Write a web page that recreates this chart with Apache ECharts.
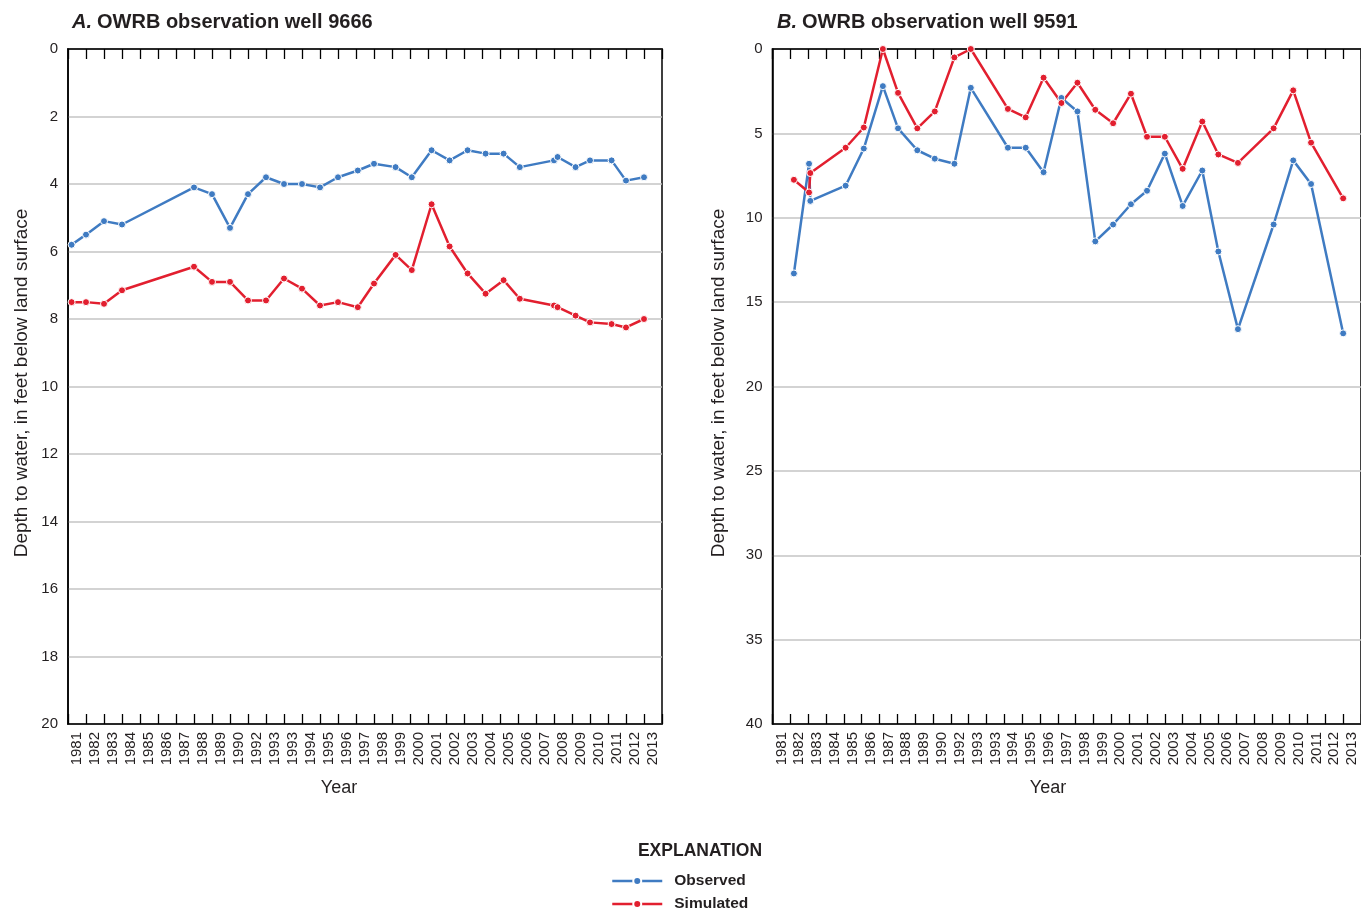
<!DOCTYPE html>
<html>
<head>
<meta charset="utf-8">
<script src="https://cdn.jsdelivr.net/npm/echarts@6/dist/echarts.min.js"></script>
<style>
  html, body { margin: 0; padding: 0; background: #ffffff; }
  #chart { width: 1361px; height: 911px; }
</style>
</head>
<body>
<div id="chart"></div>
<script>
// Tick labels printed under each band of the date axis
const yearLabels = ['1981','1982','1983','1984','1985','1986','1987','1988','1989','1990',
  '1992','1993','1993','1994','1995','1996','1997','1998','1999','2000','2001','2002',
  '2003','2004','2005','2006','2007','2008','2009','2010','2011','2012','2013'];

// Well 9666: measurement dates (decimal position on the date axis) and depths, feet
const timeA = [1981.2, 1982.0, 1983.0, 1984.0, 1988.0, 1989.0, 1990.0, 1991.0, 1992.0, 1993.0,
  1994.0, 1995.0, 1996.0, 1997.1, 1998.0, 1999.2, 2000.1, 2001.2, 2002.2, 2003.2,
  2004.2, 2005.2, 2006.1, 2008.0, 2008.2, 2009.2, 2010.0, 2011.2, 2012.0, 2013.0];
const observedA = [5.8, 5.5, 5.1, 5.2, 4.1, 4.3, 5.3, 4.3, 3.8, 4.0,
  4.0, 4.1, 3.8, 3.6, 3.4, 3.5, 3.8, 3.0, 3.3, 3.0,
  3.1, 3.1, 3.5, 3.3, 3.2, 3.5, 3.3, 3.3, 3.9, 3.8];
const simulatedA = [7.5, 7.5, 7.55, 7.15, 6.45, 6.9, 6.9, 7.45, 7.45, 6.8,
  7.1, 7.6, 7.5, 7.65, 6.95, 6.1, 6.55, 4.6, 5.85, 6.65,
  7.25, 6.85, 7.4, 7.6, 7.65, 7.9, 8.1, 8.15, 8.25, 8.0];

// Well 9591
const timeB = [1982.2, 1983.05, 1983.12, 1985.1, 1986.12, 1987.19, 1988.04, 1989.12, 1990.1, 1991.2,
  1992.12, 1994.2, 1995.2, 1996.2, 1997.2, 1998.1, 1999.1, 2000.1, 2001.1, 2002.0,
  2003.0, 2004.0, 2005.1, 2006.0, 2007.1, 2009.1, 2010.2, 2011.2, 2013.0];
const observedB = [13.3, 6.8, 9.0, 8.1, 5.9, 2.2, 4.7, 6.0, 6.5, 6.8,
  2.3, 5.85, 5.85, 7.3, 2.9, 3.7, 11.4, 10.4, 9.2, 8.4,
  6.2, 9.3, 7.2, 12.0, 16.6, 10.4, 6.6, 8.0, 16.85];
const simulatedB = [7.75, 8.5, 7.35, 5.85, 4.65, 0.0, 2.6, 4.7, 3.7, 0.5,
  0.0, 3.55, 4.05, 1.7, 3.2, 2.0, 3.6, 4.4, 2.65, 5.2,
  5.2, 7.1, 4.3, 6.25, 6.75, 4.7, 2.45, 5.55, 8.85];

const BLUE = '#3f7bc2';
const RED = '#e21f2f';
const INK = '#231f20';
const FONT = "'Liberation Sans', Arial, sans-serif";

const pairs = (xs, ys) => xs.map((x, i) => [x, ys[i]]);

function lineSeries(name, color, xIdx, yIdx, xs, ys) {
  return {
    name: name,
    type: 'line',
    xAxisIndex: xIdx,
    yAxisIndex: yIdx,
    data: pairs(xs, ys),
    symbol: 'circle',
    symbolSize: 7,
    showSymbol: true,
    clip: false,
    color: color,
    lineStyle: { color: color, width: 2.5 },
    itemStyle: { color: color, borderColor: '#ffffff', borderWidth: 1 },
    emphasis: { disabled: true },
    animation: false
  };
}

// Bottom axis: one band per label, ticks on the band edges pointing into the plot
function bandAxis(gridIndex) {
  return {
    type: 'category',
    gridIndex: gridIndex,
    position: 'bottom',
    data: yearLabels,
    boundaryGap: true,
    axisLine: { show: true, onZero: false, lineStyle: { color: '#000', width: 1.5 } },
    axisTick: { show: true, inside: true, length: 10, interval: 0, lineStyle: { color: '#000', width: 1.3 } },
    axisLabel: { interval: 0, rotate: 90, margin: 8, fontFamily: FONT, fontSize: 15, color: INK },
    splitLine: { show: false }
  };
}

// Top axis: continuous date scale that carries the measurements
function dateAxis(gridIndex) {
  return {
    type: 'value',
    gridIndex: gridIndex,
    position: 'top',
    min: 1981,
    max: 2014,
    interval: 1,
    axisLine: { show: true, onZero: false, lineStyle: { color: '#000', width: 1.5 } },
    axisTick: { show: true, inside: true, length: 10, lineStyle: { color: '#000', width: 1.3 } },
    axisLabel: { show: false },
    splitLine: { show: false }
  };
}

function depthAxis(gridIndex, max, interval) {
  return {
    type: 'value',
    gridIndex: gridIndex,
    inverse: true,
    min: 0,
    max: max,
    interval: interval,
    axisLine: { show: true, onZero: false, lineStyle: { color: '#000', width: 1.5 } },
    axisTick: { show: false },
    axisLabel: { margin: 10, fontFamily: FONT, fontSize: 15, color: INK },
    splitLine: { show: true, lineStyle: { color: '#c4c4c4', width: 1.5 } }
  };
}

function panelTitle(left, letter, text) {
  return {
    left: left, top: 7,
    text: '{i|' + letter + '} {b|' + text + '}',
    textStyle: {
      rich: {
        i: { fontFamily: FONT, fontSize: 20, fontWeight: 'bold', fontStyle: 'italic', color: INK },
        b: { fontFamily: FONT, fontSize: 20, fontWeight: 'bold', color: INK }
      }
    }
  };
}

const chart = echarts.init(document.getElementById('chart'), null, { renderer: 'canvas' });

chart.setOption({
  backgroundColor: '#ffffff',
  animation: false,
  title: [
    panelTitle(67, 'A.', 'OWRB observation well 9666'),
    panelTitle(772, 'B.', 'OWRB observation well 9591')
  ],
  grid: [
    { left: 68, top: 49, width: 594, height: 675, show: true, borderColor: '#000', borderWidth: 1.5, backgroundColor: 'transparent' },
    { left: 772.5, top: 49, width: 594, height: 675, show: true, borderColor: '#000', borderWidth: 1.5, backgroundColor: 'transparent' }
  ],
  xAxis: [bandAxis(0), dateAxis(0), bandAxis(1), dateAxis(1)],
  yAxis: [depthAxis(0, 20, 2), depthAxis(1, 40, 5)],
  legend: {
    orient: 'vertical',
    left: 606,
    top: 867,
    height: 60,
    itemWidth: 50,
    itemHeight: 10,
    itemGap: 5,
    data: ['Observed', 'Simulated'],
    lineStyle: { width: 2.5 },
    textStyle: { fontFamily: FONT, fontSize: 15.5, fontWeight: 'bold', color: INK, lineHeight: 18, padding: [0, 0, 0, 7] }
  },
  graphic: [
    { type: 'text', x: 22, y: 383, rotation: Math.PI / 2,
      style: { text: 'Depth to water, in feet below land surface', fontFamily: FONT, fontSize: 19, fill: INK, textAlign: 'center', textVerticalAlign: 'middle' } },
    { type: 'text', x: 719, y: 383, rotation: Math.PI / 2,
      style: { text: 'Depth to water, in feet below land surface', fontFamily: FONT, fontSize: 19, fill: INK, textAlign: 'center', textVerticalAlign: 'middle' } },
    { type: 'text', x: 339, y: 788,
      style: { text: 'Year', fontFamily: FONT, fontSize: 18, fill: INK, textAlign: 'center', textVerticalAlign: 'middle' } },
    { type: 'text', x: 1048, y: 788,
      style: { text: 'Year', fontFamily: FONT, fontSize: 18, fill: INK, textAlign: 'center', textVerticalAlign: 'middle' } },
    { type: 'text', x: 700, y: 851,
      style: { text: 'EXPLANATION', fontFamily: FONT, fontSize: 17.5, fontWeight: 'bold', fill: INK, textAlign: 'center', textVerticalAlign: 'middle' } }
  ],
  series: [
    lineSeries('Observed', BLUE, 1, 0, timeA, observedA),
    lineSeries('Simulated', RED, 1, 0, timeA, simulatedA),
    lineSeries('Observed', BLUE, 3, 1, timeB, observedB),
    lineSeries('Simulated', RED, 3, 1, timeB, simulatedB)
  ]
});
</script>
</body>
</html>
